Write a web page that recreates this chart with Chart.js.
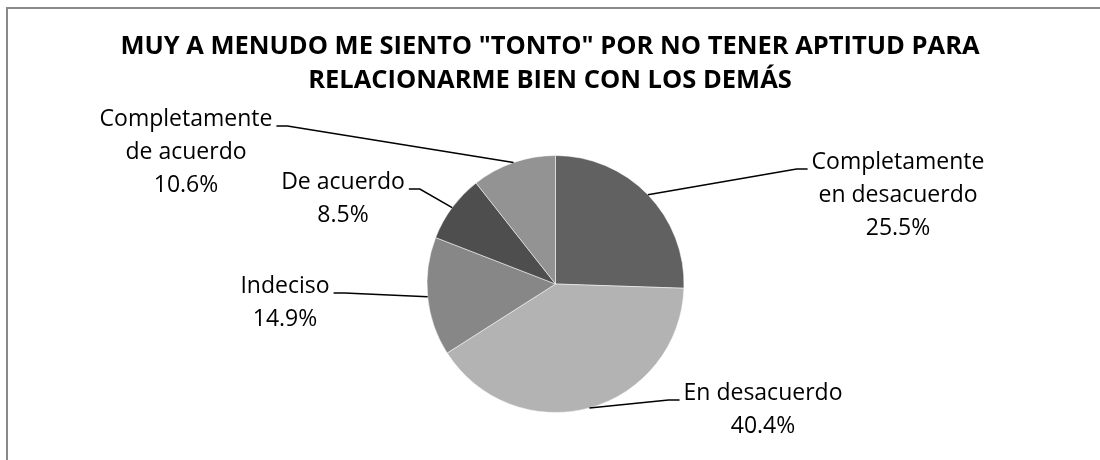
<!DOCTYPE html>
<html>
<head>
<meta charset="utf-8">
<script src="https://cdn.jsdelivr.net/npm/chart.js@4.4.0/dist/chart.umd.min.js"></script>
<style>
  html, body { margin: 0; padding: 0; background: #ffffff; }
</style>
</head>
<body>
<canvas id="pieChart" width="1100" height="460"></canvas>
<script>
//título del gráfico (dos líneas)
var titulo = ['MUY A MENUDO ME SIENTO "TONTO" POR NO TENER APTITUD PARA', 'RELACIONARME BIEN CON LOS DEMÁS'];

//categorías (cada una partida en líneas como en la imagen)
var categorias = [
  ["Completamente", "en desacuerdo"],
  ["En desacuerdo"],
  ["Indeciso"],
  ["De acuerdo"],
  ["Completamente", "de acuerdo"]
];

//porcentajes
var valores = [25.5, 40.4, 14.9, 8.5, 10.6];

//colores de cada porción
var colores = ["#616161", "#b3b3b3", "#878787", "#4e4e4e", "#939393"];

//posición de las etiquetas (centro del texto y centro de la primera línea)
var posEtiquetas = [
  { x: 898, y: 162, lado: "izq" },
  { x: 763, y: 393, lado: "izq" },
  { x: 285, y: 286, lado: "der" },
  { x: 343, y: 182, lado: "der" },
  { x: 186, y: 119, lado: "der" }
];

var fuente = "'Open Sans', 'Noto Sans', sans-serif";

//plugin: marco, título, etiquetas y líneas guía
var etiquetasPlugin = {
  id: "etiquetas",
  beforeDraw: function (chart) {
    var c = chart.ctx;
    c.save();
    //marco gris (solo izquierda y arriba se ven)
    c.strokeStyle = "#8a8a8a";
    c.lineWidth = 2;
    c.beginPath();
    c.moveTo(7, 460);
    c.lineTo(7, 8);
    c.lineTo(1100, 8);
    c.stroke();
    //título
    c.fillStyle = "#000000";
    c.font = "bold 25.5px " + fuente;
    c.textAlign = "center";
    c.textBaseline = "middle";
    c.fillText(titulo[0], 550, 47);
    c.fillText(titulo[1], 550, 80.5);
    c.restore();
  },
  afterDatasetsDraw: function (chart) {
    var c = chart.ctx;
    var arcos = chart.getDatasetMeta(0).data;
    var total = valores.reduce(function (a, b) { return a + b; }, 0);
    c.save();
    c.font = "23px " + fuente;
    c.fillStyle = "#000000";
    c.strokeStyle = "#000000";
    c.lineWidth = 1.5;
    c.textAlign = "center";
    c.textBaseline = "middle";
    for (var i = 0; i < arcos.length; i++) {
      var arco = arcos[i];
      var p = posEtiquetas[i];
      var lineas = categorias[i].concat([(valores[i] / total * 100).toFixed(1) + "%"]);
      //texto
      for (var j = 0; j < lineas.length; j++) {
        c.fillText(lineas[j], p.x, p.y + j * 33);
      }
      //punto de anclaje en el borde de la porción
      var medio = (arco.startAngle + arco.endAngle) / 2;
      var ax = arco.x + Math.cos(medio) * arco.outerRadius;
      var ay = arco.y + Math.sin(medio) * arco.outerRadius;
      var ancho = c.measureText(lineas[0]).width;
      var ly = p.y + 7;
      var borde, codo;
      if (p.lado === "izq") {
        borde = p.x - ancho / 2 - 4;
        codo = borde - 11;
      } else {
        borde = p.x + ancho / 2 + 4;
        codo = borde + 11;
      }
      c.beginPath();
      c.moveTo(borde, ly);
      c.lineTo(codo, ly);
      c.lineTo(ax, ay);
      c.stroke();
    }
    c.restore();
  }
};

var ctx = document.getElementById("pieChart");
var myChart = new Chart(ctx, {
  type: 'pie',
  data: {
    labels: categorias.map(function (l) { return l.join(" "); }),
    datasets: [
      {
        data: valores,
        backgroundColor: colores,
        //borde fino entre porciones
        borderColor: "rgba(255,255,255,0.5)",
        borderWidth: 1
      }
    ]
  },
  plugins: [etiquetasPlugin],
  options: {
    responsive: false,
    animation: false,
    //ubicar el círculo (centro ~556,284 radio ~129)
    layout: {
      padding: { top: 155, left: 415, right: 404, bottom: 47 }
    },
    plugins: {
      legend: { display: false },
      title: { display: false },
      tooltip: { enabled: false }
    }
  }
});
</script>
</body>
</html>
